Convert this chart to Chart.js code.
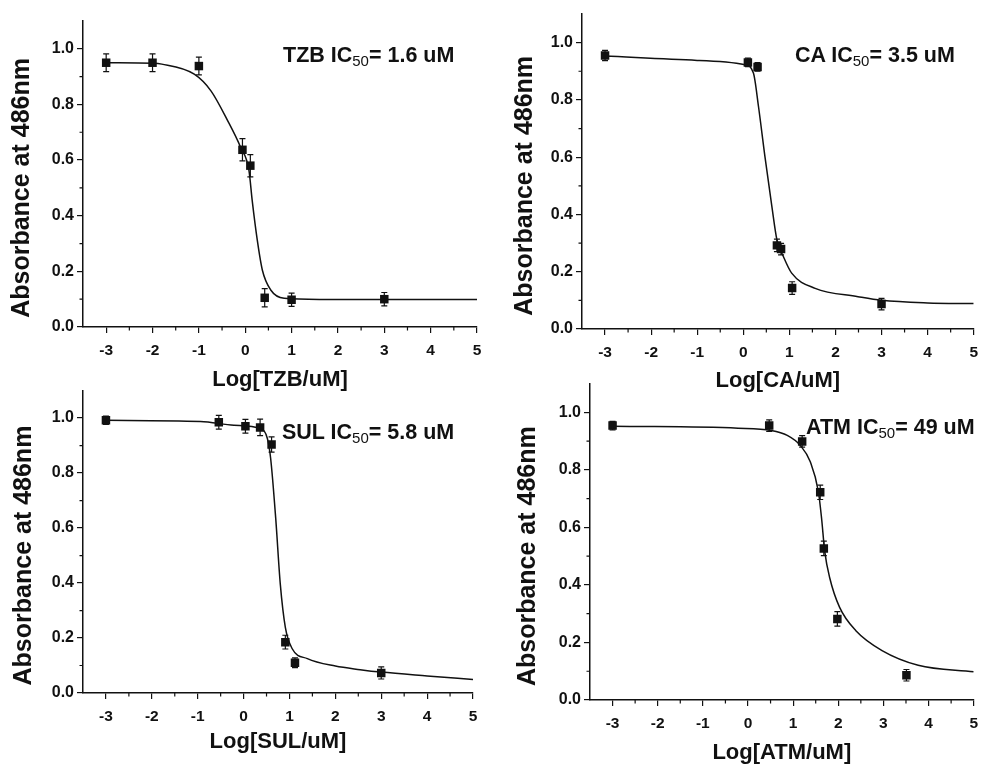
<!DOCTYPE html>
<html>
<head>
<meta charset="utf-8">
<script src="https://cdn.jsdelivr.net/npm/chart.js@4.4.0/dist/chart.umd.min.js"></script>
<style>
    body { margin: 0; background: #fff; width: 986px; height: 767px; overflow: hidden; position: relative; font-family: "Liberation Sans", Arial, sans-serif; }
    canvas { position: absolute; }
    .ic { position: absolute; font-weight: bold; font-size: 21.5px; line-height: 20px; color: #111; white-space: nowrap; }
    .ic sub { font-size: 15px; font-weight: normal; vertical-align: -4px; line-height: 0; }
</style>
</head>
<body>
<canvas id="tzbChart" width="490" height="393" style="left:3px; top:0px;"></canvas>
<canvas id="caChart" width="480" height="394" style="left:506px; top:0px;"></canvas>
<canvas id="sulChart" width="485" height="377" style="left:5px; top:378px;"></canvas>
<canvas id="atmChart" width="477" height="395" style="left:509px; top:371px;"></canvas>

<div class="ic" style="left:283px; top:45px;">TZB IC<sub>50</sub>= 1.6 uM</div>
<div class="ic" style="left:795px; top:45px;">CA IC<sub>50</sub>= 3.5 uM</div>
<div class="ic" style="left:282px; top:422px;">SUL IC<sub>50</sub>= 5.8 uM</div>
<div class="ic" style="left:806px; top:417px;">ATM IC<sub>50</sub>= 49 uM</div>

<script>
// tick positions
const xTicks = [-3, -2, -1, 0, 1, 2, 3, 4, 5];
const xMinor = [-2.5, -1.5, -0.5, 0.5, 1.5, 2.5, 3.5, 4.5];
const yMinor = [0.1, 0.3, 0.5, 0.7, 0.9];
const yTitle = 'Absorbance at 486nm';

// TZB
const tzbLogConc = [-3, -2, -1, -0.06, 0.11, 0.42, 1.0, 3.0];
const tzbAbs = [0.95, 0.95, 0.938, 0.637, 0.58, 0.105, 0.098, 0.10];
const tzbErr = [0.032, 0.032, 0.032, 0.04, 0.04, 0.033, 0.024, 0.024];
const tzbFitX = [-3, -2, -1.8, -1.1, -0.74, -0.38, -0.1, 0.08, 0.15, 0.26, 0.37, 0.55, 0.84, 1.6, 5];
const tzbFitY = [0.95, 0.948, 0.945, 0.909, 0.849, 0.742, 0.646, 0.563, 0.455, 0.312, 0.204, 0.133, 0.103, 0.099, 0.099];

// CA
const caLogConc = [-3, 0.1, 0.31, 0.73, 0.82, 1.06, 3.0];
const caAbs = [0.955, 0.931, 0.915, 0.292, 0.279, 0.143, 0.087];
const caErr = [0.018, 0.015, 0.015, 0.022, 0.02, 0.022, 0.02];
const caFitX = [-3, -1, 0.04, 0.22, 0.33, 0.47, 0.62, 0.73, 0.87, 1.05, 1.56, 2.49, 3, 4, 5];
const caFitY = [0.953, 0.938, 0.923, 0.894, 0.777, 0.602, 0.428, 0.311, 0.253, 0.195, 0.142, 0.113, 0.10, 0.091, 0.089];

// SUL
const sulLogConc = [-3, -0.54, 0.04, 0.36, 0.61, 0.91, 1.12, 3.0];
const sulAbs = [0.992, 0.985, 0.97, 0.966, 0.904, 0.185, 0.11, 0.073];
const sulErr = [0.015, 0.025, 0.025, 0.03, 0.028, 0.025, 0.018, 0.022];
const sulFitX = [-3, -0.94, -0.21, 0.37, 0.52, 0.59, 0.7, 0.8, 0.91, 1.06, 1.39, 2.0, 2.54, 3, 4, 5];
const sulFitY = [0.992, 0.988, 0.974, 0.961, 0.925, 0.853, 0.636, 0.396, 0.239, 0.161, 0.125, 0.098, 0.085, 0.076, 0.062, 0.049];

// ATM
const atmLogConc = [-3, 0.47, 1.2, 1.6, 1.68, 1.98, 3.51];
const atmAbs = [0.954, 0.954, 0.899, 0.722, 0.527, 0.282, 0.086];
const atmErr = [0.015, 0.02, 0.02, 0.025, 0.025, 0.025, 0.02];
const atmFitX = [-3, -0.22, 0.51, 0.87, 1.16, 1.38, 1.56, 1.63, 1.7, 1.81, 2.03, 2.39, 2.97, 3.77, 5];
const atmFitY = [0.952, 0.945, 0.937, 0.92, 0.885, 0.828, 0.724, 0.632, 0.517, 0.425, 0.322, 0.241, 0.172, 0.121, 0.098];

const INK = '#111';
const FONT = '"Liberation Sans", Arial, sans-serif';
Chart.defaults.font.family = FONT;
Chart.defaults.color = INK;

// 誤差棒
const errorBarPlugin = {
    id: 'errorBars',
    afterDatasetsDraw(chart) {
        const { ctx, scales: { x, y } } = chart;
        const ds = chart.data.datasets[0];
        ctx.save();
        ctx.strokeStyle = INK;
        ctx.lineWidth = 1.2;
        ctx.beginPath();
        ds.data.forEach((p, i) => {
            const e = ds.errors[i];
            const px = x.getPixelForValue(p.x);
            const top = y.getPixelForValue(p.y + e);
            const bot = y.getPixelForValue(p.y - e);
            ctx.moveTo(px, top); ctx.lineTo(px, bot);
            ctx.moveTo(px - 3, top); ctx.lineTo(px + 3, top);
            ctx.moveTo(px - 3, bot); ctx.lineTo(px + 3, bot);
        });
        ctx.stroke();
        ctx.restore();
    }
};

// 次刻度 + 縦軸タイトル (0〜1.0 の中央に置く)
const axisExtrasPlugin = {
    id: 'axisExtras',
    afterDraw(chart) {
        const { ctx, scales: { x, y }, chartArea } = chart;
        ctx.save();
        ctx.strokeStyle = INK;
        ctx.lineWidth = 1.2;
        ctx.beginPath();
        xMinor.forEach(v => {
            const px = x.getPixelForValue(v);
            ctx.moveTo(px, chartArea.bottom); ctx.lineTo(px, chartArea.bottom + 3.5);
        });
        yMinor.forEach(v => {
            const py = y.getPixelForValue(v);
            ctx.moveTo(chartArea.left, py); ctx.lineTo(chartArea.left - 3.5, py);
        });
        ctx.stroke();

        const cy = (y.getPixelForValue(0) + y.getPixelForValue(1)) / 2;
        ctx.translate(19, cy);
        ctx.rotate(-Math.PI / 2);
        ctx.fillStyle = INK;
        ctx.font = 'bold 25px ' + FONT;
        ctx.textAlign = 'center';
        ctx.textBaseline = 'middle';
        ctx.fillText(yTitle, 0, 0);
        ctx.restore();
    }
};

function makePanel(id, xs, ys, errs, fitX, fitY, xTitle, lay) {
    const ctx = document.getElementById(id).getContext('2d');
    return new Chart(ctx, {
        type: 'scatter',
        data: {
            datasets: [{
                data: xs.map((v, i) => ({ x: v, y: ys[i] })),
                errors: errs,
                pointStyle: 'rect',
                pointRadius: 6,
                backgroundColor: INK,
                borderColor: INK,
                borderWidth: 0
            }, {
                type: 'line',
                data: fitX.map((v, i) => ({ x: v, y: fitY[i] })),
                borderColor: INK,
                borderWidth: 1.5,
                pointRadius: 0,
                cubicInterpolationMode: 'monotone',
                fill: false
            }]
        },
        options: {
            responsive: false,
            animation: false,
            events: [],
            layout: { padding: { top: lay.top, right: lay.right, bottom: 0, left: 0 } },
            plugins: { legend: { display: false }, tooltip: { enabled: false } },
            scales: {
                x: {
                    type: 'linear',
                    min: -3.5, max: 5,
                    afterFit: s => { s.height = lay.xh; },
                    afterBuildTicks: s => { s.ticks = xTicks.map(v => ({ value: v })); },
                    border: { display: true, color: INK, width: 1.5 },
                    grid: { drawOnChartArea: false, drawTicks: true, tickLength: 6, color: INK, lineWidth: 1.2 },
                    ticks: { padding: 8, maxRotation: 0, autoSkip: false, font: { size: 15.5, weight: 'bold' } },
                    title: { display: true, text: xTitle, padding: { top: 0, bottom: 0 }, font: { size: 22, weight: 'bold' } }
                },
                y: {
                    type: 'linear',
                    min: 0, max: 1.1,
                    afterFit: s => { s.width = lay.yw; },
                    border: { display: true, color: INK, width: 1.5 },
                    grid: { drawOnChartArea: false, drawTicks: true, tickLength: 6, color: INK, lineWidth: 1.2 },
                    ticks: { stepSize: 0.2, includeBounds: false, padding: 3, font: { size: 16, weight: 'bold' }, callback: v => v.toFixed(1) },
                    title: { display: false }
                }
            }
        },
        plugins: [errorBarPlugin, axisExtrasPlugin]
    });
}

makePanel('tzbChart', tzbLogConc, tzbAbs, tzbErr, tzbFitX, tzbFitY, 'Log[TZB/uM]', { top: 21, right: 16, xh: 66, yw: 80 });
makePanel('caChart', caLogConc, caAbs, caErr, caFitX, caFitY, 'Log[CA/uM]', { top: 14, right: 10, xh: 65, yw: 76 });
makePanel('sulChart', sulLogConc, sulAbs, sulErr, sulFitX, sulFitY, 'Log[SUL/uM]', { top: 10, right: 17, xh: 62, yw: 78 });
makePanel('atmChart', atmLogConc, atmAbs, atmErr, atmFitX, atmFitY, 'Log[ATM/uM]', { top: 10, right: 6, xh: 66, yw: 81 });
</script>
</body>
</html>
